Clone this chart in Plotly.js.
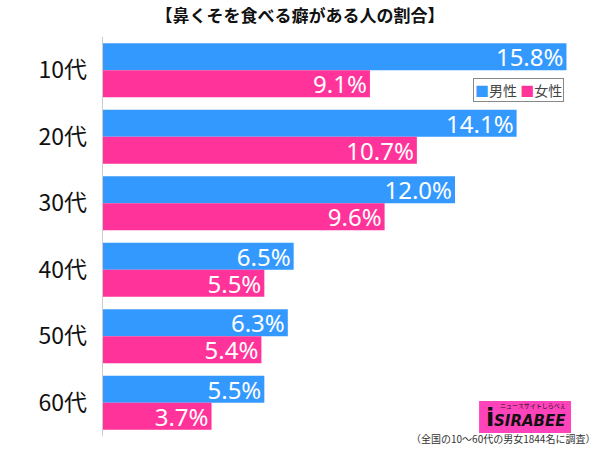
<!DOCTYPE html>
<html><head><meta charset="utf-8">
<script src="https://cdn.plot.ly/plotly-3.0.1.min.js"></script>
<style>html,body{margin:0;padding:0;background:#fff}#c{width:600px;height:449px}</style>
</head><body><div id="c"></div>
<script>
const categories = ['10代','20代','30代','40代','50代','60代'];
const male = [15.8, 14.1, 12.0, 6.5, 6.3, 5.5];
const female = [9.1, 10.7, 9.6, 5.5, 5.4, 3.7];
const seriesNames = ['男性','女性'];
const colors = ['#3399ff','#ff3399'];
const F = '"Noto Sans CJK JP", "Noto Sans", sans-serif';
function tr(vals, name, color){
  return {type:'bar', orientation:'h', y:categories, x:vals, name:name,
    marker:{color:color},
    texttemplate:'%{x:.1f}%', textposition:'inside', insidetextanchor:'end',
    constraintext:'none', cliponaxis:false,
    textfont:{color:'#ffffff', size:24, family:'"Noto Sans", "Open Sans", sans-serif'},
    hoverinfo:'skip'};
}
const data = [tr(male, seriesNames[0], colors[0]), tr(female, seriesNames[1], colors[1])];
const legendText = seriesNames.map((n,i)=>'<span style="color:'+colors[i]+'">■</span>'+n).join(' ');
const layout = {
  width:600, height:449,
  margin:{l:103, r:13, t:37, b:13},
  paper_bgcolor:'#ffffff', plot_bgcolor:'#ffffff',
  barmode:'group', bargap:0.19, bargroupgap:0,
  showlegend:false,
  title:{text:'<b>【鼻くそを食べる癖がある人の割合】</b>', x:0.5, xanchor:'center', y:0.965, yanchor:'middle',
    font:{family:F, size:17, color:'#111111'}},
  xaxis:{range:[0,16.5], showgrid:false, zeroline:false, showticklabels:false, ticks:'', showline:false, fixedrange:true},
  yaxis:{autorange:'reversed', showgrid:false, zeroline:false, showline:true, linecolor:'#cccccc', linewidth:1,
    ticks:'', ticksuffix:'  ', tickfont:{family:F, size:23, color:'#111111'}},
  shapes:[{type:'rect', xref:'paper', yref:'paper', x0:0.777, x1:0.967, y0:0.0075, y1:0.0877,
    fillcolor:'#ff44bb', line:{width:0}, layer:'above'}],
  annotations:[
    {text:legendText, xref:'paper', yref:'paper', x:0.858, y:0.867, xanchor:'center', yanchor:'middle',
      showarrow:false, bordercolor:'#888888', borderwidth:1, borderpad:1, bgcolor:'#ffffff',
      font:{family:F, size:14, color:'#444444'}},
    {text:'<i><b>SIRABEE</b></i>', xref:'paper', yref:'paper', x:0.96, y:0.038, xanchor:'right', yanchor:'middle',
      showarrow:false, font:{family:'"DejaVu Sans", sans-serif', size:15, color:'#111111'}},
    {text:'<b>i</b>', xref:'paper', yref:'paper', x:0.8, y:0.045, xanchor:'center', yanchor:'middle',
      showarrow:false, font:{family:'"DejaVu Sans", sans-serif', size:24, color:'#111111'}},
    {text:'ニュースサイトしらべぇ', xref:'paper', yref:'paper', x:0.96, y:0.077, xanchor:'right', yanchor:'middle',
      showarrow:false, font:{family:F, size:6, color:'#111111'}},
    {text:'（全国の10～60代の男女1844名に調査）', xref:'paper', yref:'paper', x:1.02, y:-0.03, xanchor:'right', yanchor:'bottom',
      showarrow:false, font:{family:F, size:10, color:'#333333'}}
  ]
};
Plotly.newPlot('c', data, layout, {displayModeBar:false, staticPlot:true});
</script></body></html>
